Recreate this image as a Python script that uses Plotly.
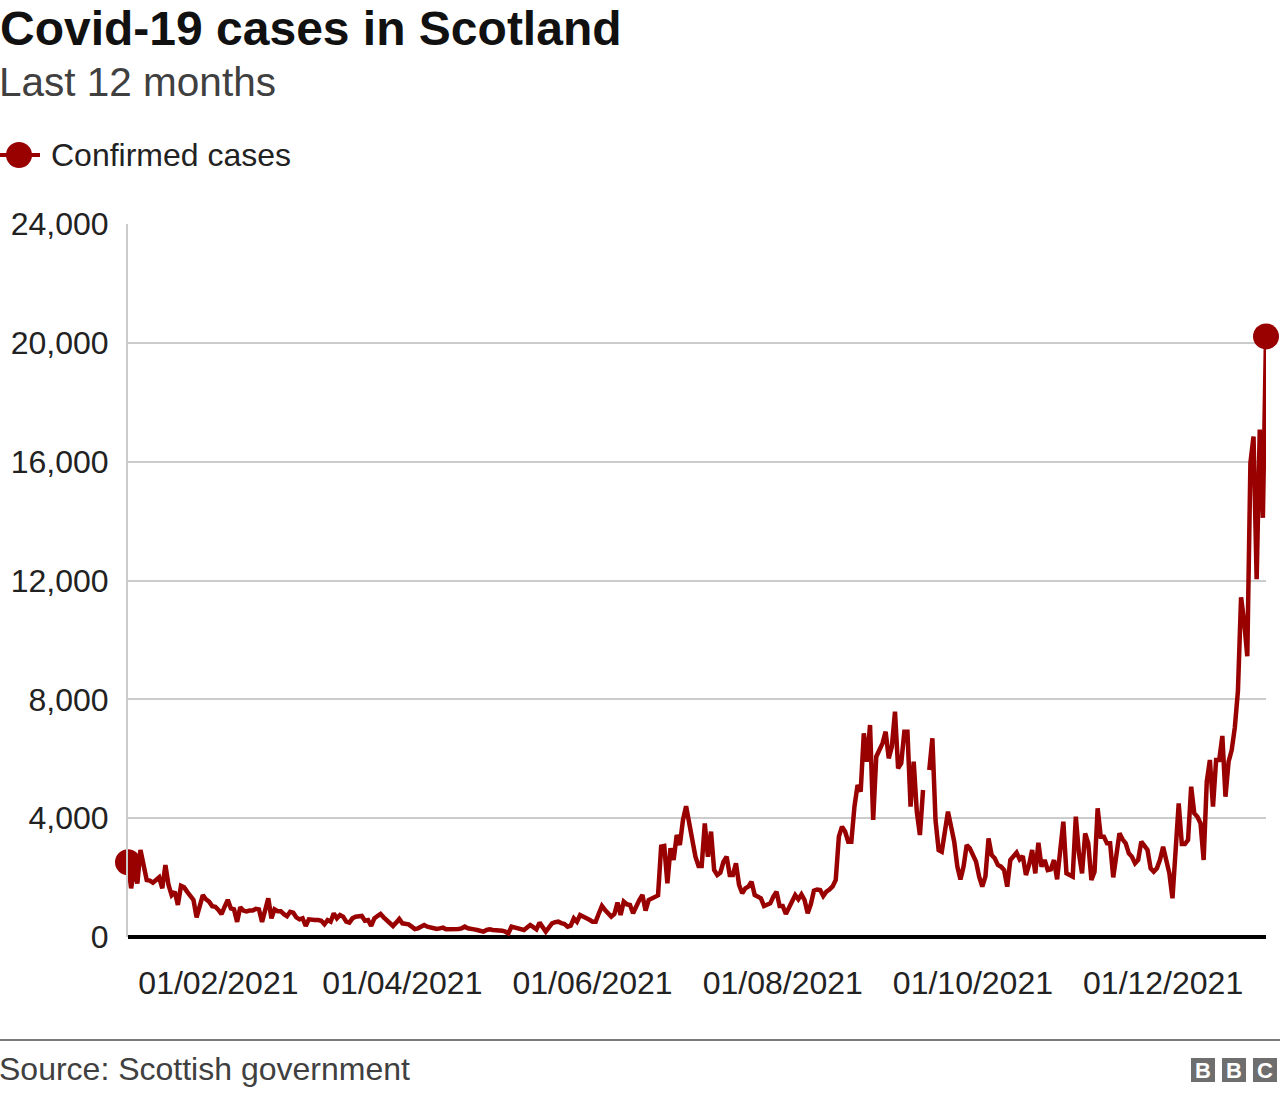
import pandas as pd
import plotly.graph_objects as go

# Daily confirmed cases, starting 03/01/2021 (None = no data)
daily_cases = [
    # Jan 2021 (from 3rd)
    2515, 1640, 2310, 1800, 2930, 2420, 1920, 1900, 1830, 1920, 2010, 1640, 2420, 1750,
    1410, 1520, 1080, 1720, 1670, 1520, 1360, 1250, 660, 1080, 1410, 1270, 1190, 1040, 1020,
    # Feb
    910, 770, 1020, 1250, 960, 930, 510, 1000, 890, 860, 890, 890, 950, 930, 510, 850,
    1300, 630, 930, 870, 870, 770, 700, 850, 820, 660, 595, 630,
    # Mar
    370, 595, 570, 570, 570, 545, 430, 570, 516, 797, 628, 741, 685, 516, 483, 628, 685,
    685, 707, 550, 572, 370, 628, 707, 775, 662, 572, 460, 370, 483, 606, 460,
    # Apr
    460, 426, 348, 269, 292, 348, 404, 348, 314, 269, 269, 292, 314, 258, 258, 258, 247,
    269, 292, 348, 292, 292, 258, 236, 202, 180, 236, 258, 236, 236,
    # May
    213, 213, 180, 123, 348, 325, 314, 290, 236, 320, 404, 330, 258, 483, 330, 180, 320,
    460, 500, 516, 470, 438, 348, 382, 628, 516, 741, 700, 628, 580, 516,
    # Jun
    516, 790, 1043, 909, 800, 685, 774, 1156, 741, 1190, 1100, 1077, 797, 1050, 1245,
    1414, 887, 1245, 1302, 1358, 1400, 3041, 3063, 1806, 2985, 2592, 3433, 3097, 3938, 4400,
    # Jul
    3826, 3097, 2704, 2390, 2390, 3826, 2704, 3546, 2255, 2087, 2165, 2536, 2704, 2087,
    2087, 2480, 1750, 1470, 1638, 1700, 1862, 1414, 1350, 1302, 1043, 1100, 1133, 1358,
    1526, 1043, 1043,
    # Aug
    774, 1000, 1190, 1414, 1268, 1436, 1245, 797, 1100, 1560, 1600, 1582, 1380, 1526,
    1600, 1700, 1919, 3377, 3714, 3550, 3209, 3209, 4387, 5116, 4892, 6855, 5902, 7136,
    3938, 6070, 6294,
    # Sep
    6519, 6911, 6014, 6406, 7585, 5677, 5846, 6911, 6911, 4387, 5902, 4219, 3433, 4948,
    None, 5621, 6687, 3938, 2928, 2872, 3500, 4219, 3714, 3209, 2368, 1941, 2368, 3097,
    2985, 2760,
    # Oct
    2536, 2031, 1694, 2031, 3321, 2760, 2648, 2424, 2368, 2255, 1694, 2592, 2704, 2839,
    2614, 2726, 2087, 2424, 2928, 2143, 3175, 2368, 2592, 2255, 2278, 2592, 1941, 2872,
    3883, 2143, 2087,
    # Nov
    2031, 4050, 2816, 2143, 3490, 3153, 1919, 2199, 4331, 3377, 3377, 3153, 3153, 2008,
    2872, 3490, 3288, 3153, 2816, 2704, 2480, 2592, 3209, 3041, 2928, 2311, 2199, 2311,
    2600, 3041,
    # Dec
    2592, 2143, 1302, 2816, 4499, 3130, 3130, 3265, 5060, 4163, 4050, 3826, 2592, 5229,
    5958, 4387, 5958, 5958, 6766, 4723, 5902, 6294, 7054, 8287, 11438, 10600, 9452, 15959,
    16849, 12041, 17082,
    # Jan 2022
    14110, 20217,
]
start_date = "2021-01-03"
dates = pd.date_range(start_date, periods=len(daily_cases), freq="D")

x_tick_dates = ["2021-02-01", "2021-04-01", "2021-06-01", "2021-08-01", "2021-10-01", "2021-12-01"]
x_tick_labels = ["01/02/2021", "01/04/2021", "01/06/2021", "01/08/2021", "01/10/2021", "01/12/2021"]
y_ticks = [0, 4000, 8000, 12000, 16000, 20000, 24000]

RED = "#990000"
FONT = "Liberation Sans, Arial, sans-serif"

W, H = 1280, 1096
L, R, T, B = 128, 14, 224, 159
PW, PH = W - L - R, H - T - B


def px_x(px):
    return (px - L) / PW


def px_y(py):
    return (H - B - py) / PH


sizes = [0] * len(daily_cases)
sizes[0] = sizes[-1] = 26

fig = go.Figure(
    go.Scatter(
        x=dates,
        y=daily_cases,
        mode="lines+markers",
        line=dict(color=RED, width=4.5),
        marker=dict(color=RED, size=sizes, opacity=1, line=dict(width=0)),
        cliponaxis=False,
        showlegend=False,
        hovertemplate="%{x|%d/%m/%Y}: %{y:,}<extra></extra>",
    )
)

fig.update_layout(
    width=W,
    height=H,
    margin=dict(l=L, r=R, t=T, b=B),
    paper_bgcolor="white",
    plot_bgcolor="white",
    font=dict(family=FONT, color="#222222"),
    title=dict(
        text="<b>Covid-19 cases in Scotland</b>",
        font=dict(size=48, color="#111111", family=FONT),
        x=0, xref="container", xanchor="left",
        y=1 - 28 / H, yref="container", yanchor="middle",
    ),
    xaxis=dict(
        type="date",
        range=[dates[0], dates[-1]],
        tickvals=x_tick_dates,
        ticktext=x_tick_labels,
        tickfont=dict(size=32, color="#222222"),
        showgrid=False,
        zeroline=False,
        showline=False,
        ticks="",
        ticklabelstandoff=24,
        automargin=False,
    ),
    yaxis=dict(
        range=[0, 24000],
        tickvals=y_ticks,
        tickformat=",",
        tickfont=dict(size=32, color="#222222"),
        gridcolor="#cccccc",
        gridwidth=2,
        zeroline=True,
        zerolinecolor="#000000",
        zerolinewidth=4,
        showline=True,
        linecolor="#cccccc",
        linewidth=2,
        ticks="",
        ticklabelstandoff=11,
        automargin=False,
    ),
)

annotations = [
    dict(text="Last 12 months", x=px_x(-3), y=px_y(82), font=dict(size=40.5, color="#404040")),
    dict(text="Confirmed cases", x=px_x(49), y=px_y(155), font=dict(size=32, color="#222222")),
    dict(text="Source: Scottish government", x=px_x(-3), y=px_y(1069), font=dict(size=32, color="#404040")),
]
for a in annotations:
    fig.add_annotation(xref="paper", yref="paper", xanchor="left", yanchor="middle", showarrow=False, **a)

# legend key
fig.add_shape(type="line", xref="paper", yref="paper", x0=px_x(0), x1=px_x(40), y0=px_y(155), y1=px_y(155),
              line=dict(color=RED, width=4))
fig.add_shape(type="circle", xref="paper", yref="paper", x0=px_x(6), x1=px_x(32), y0=px_y(142), y1=px_y(168),
              fillcolor=RED, line=dict(width=0))

# footer rule
fig.add_shape(type="line", xref="paper", yref="paper", x0=px_x(0), x1=px_x(W), y0=px_y(1040), y1=px_y(1040),
              line=dict(color="#7a7a7a", width=2))

# BBC blocks
for i, letter in enumerate("BBC"):
    x0 = 1191 + i * 31
    fig.add_shape(type="rect", xref="paper", yref="paper", x0=px_x(x0), x1=px_x(x0 + 24),
                  y0=px_y(1082), y1=px_y(1058), fillcolor="#6e6e6e", line=dict(width=0))
    fig.add_annotation(xref="paper", yref="paper", x=px_x(x0 + 12), y=px_y(1070), text=f"<b>{letter}</b>",
                       showarrow=False, font=dict(size=22, color="white"), xanchor="center", yanchor="middle")

fig.write_html("out.html", config={"displayModeBar": False},
               post_script="document.body.style.margin='0';")
